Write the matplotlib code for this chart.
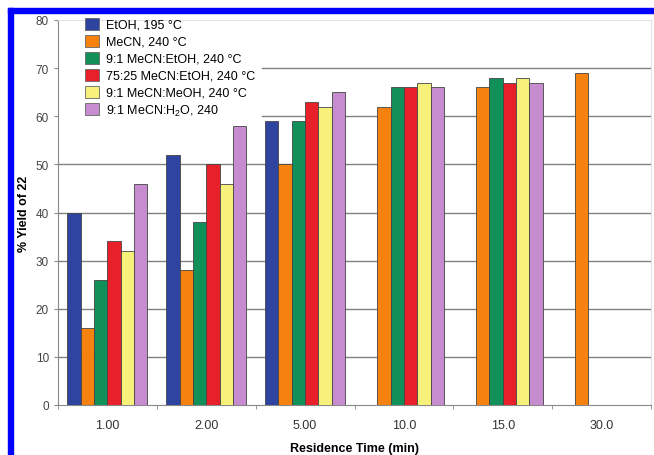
import numpy as np
import matplotlib.pyplot as plt
from matplotlib.patches import Rectangle

plt.rcParams['font.family'] = ['Liberation Sans', 'DejaVu Sans']
plt.rcParams['mathtext.fontset'] = 'custom'
plt.rcParams['mathtext.rm'] = 'Liberation Sans'

times = ['1.00', '2.00', '5.00', '10.0', '15.0', '30.0']
labels = ['EtOH, 195 °C', 'MeCN, 240 °C', '9:1 MeCN:EtOH, 240 °C',
          '75:25 MeCN:EtOH, 240 °C', '9:1 MeCN:MeOH, 240 °C',
          '9:1 MeCN:H$_2$O, 240']
nan = np.nan
etoh = [40, 52, 59, nan, nan, nan]
mecn = [16, 28, 50, 62, 66, 69]
mecn_etoh_91 = [26, 38, 59, 66, 68, nan]
mecn_etoh_7525 = [34, 50, 63, 66, 67, nan]
mecn_meoh = [32, 46, 62, 67, 68, nan]
mecn_h2o = [46, 58, 65, 66, 67, nan]
series = [etoh, mecn, mecn_etoh_91, mecn_etoh_7525, mecn_meoh, mecn_h2o]
colors = ['#2f449e', '#f5820f', '#11905a', '#e8202a', '#f7f07a', '#c78cd0']

fig = plt.figure(figsize=(6.54, 4.56), dpi=100)
# blue frame round the figure (left and top edges)
fig.patches.append(Rectangle((8 / 654, 0), 5 / 654, 447 / 456, transform=fig.transFigure,
                             color='#0000ff', zorder=-1))
fig.patches.append(Rectangle((8 / 654, 442 / 456), 646 / 654, 5 / 456, transform=fig.transFigure,
                             color='#0000ff', zorder=-1))
ax = fig.add_axes([58 / 654, 50 / 456, 593 / 654, 385 / 456])

x = np.arange(len(times))
w = 0.135
for j, (vals, c, lab) in enumerate(zip(series, colors, labels)):
    ax.bar(x + (j - 2.5) * w, vals, w, color=c, edgecolor='#444444', linewidth=0.6,
           label=lab, zorder=3)

ax.set_xlim(-0.5, len(times) - 0.5)
ax.set_ylim(0, 80)
ax.set_yticks(range(0, 81, 10))

ax.set_xticks(x)
ax.set_xticklabels(times, fontsize=9, color='#333333')
ax.set_xticks(np.arange(-0.5, len(times), 1), minor=True)
ax.tick_params(axis='x', which='major', length=0, pad=10)
ax.tick_params(axis='x', which='minor', length=3, color='#888888', direction='out')
ax.tick_params(axis='y', length=3, color='#888888', labelsize=8.5, labelcolor='#444444')

for s in ['left', 'bottom']:
    ax.spines[s].set_color('#888888')
for s in ['top', 'right']:
    ax.spines[s].set_color('#e4e4e4')

ax.set_ylabel('% Yield of 22', fontsize=9, fontweight='bold', labelpad=4)
ax.set_xlabel('Residence Time (min)', fontsize=9, fontweight='bold', labelpad=8)

leg = ax.legend(loc='upper left', bbox_to_anchor=(0.039, 1.016), fontsize=9, frameon=False,
                handlelength=1.1, handleheight=1.1, labelspacing=0.3, handletextpad=0.6,
                borderpad=0.3, borderaxespad=0)
for p in leg.get_patches():
    p.set_edgecolor('#666666')
    p.set_linewidth(0.6)

# gridlines stop where the legend sits
fig.canvas.draw()
bb = leg.get_window_extent().transformed(ax.transAxes.inverted())
for v in range(10, 80, 10):
    yf = v / 80
    xmin = bb.x1 + 0.005 if bb.y0 <= yf <= bb.y1 + 0.01 else 0
    ax.axhline(v, xmin=xmin, color='#808080', linewidth=1, zorder=1)

fig.savefig('out.png', dpi=100)
